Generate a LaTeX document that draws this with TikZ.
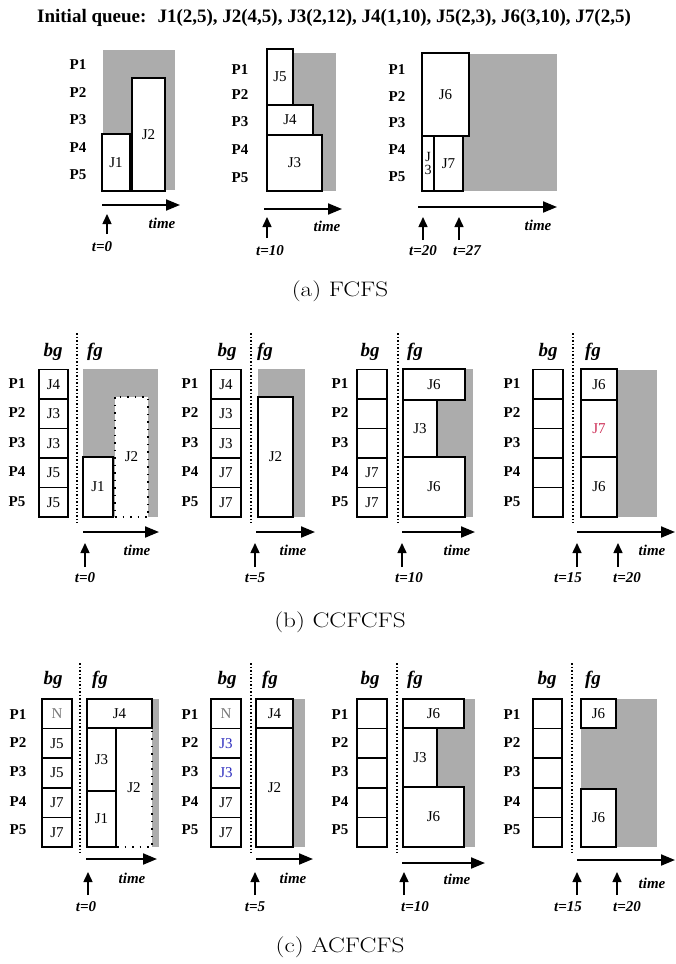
\documentclass[tikz,border=0pt]{standalone}
\usepackage{fontspec}
\usepackage{graphicx}
\newfontfamily\tms{Liberation Serif}
\usetikzlibrary{arrows.meta}

\definecolor{busygray}{RGB}{172,172,172}
\definecolor{qred}{RGB}{205,45,85}
\definecolor{qblue}{RGB}{45,45,190}
\definecolor{nogray}{RGB}{120,120,120}

\tikzset{
  busy/.style={fill=busygray},
  job/.style={draw, line width=1.5pt, fill=white},
  ghost/.style={draw, line width=1.5pt, dash pattern=on 1.5pt off 6pt, fill=white},
  cell/.style={draw, line width=1.5pt, fill=white},
  split/.style={line width=1.5pt, dash pattern=on 1.5pt off 2pt},
  headline/.style={font=\tms\bfseries\fontsize{19}{19}\selectfont},
  plabel/.style={font=\tms\bfseries\fontsize{15}{15}\selectfont},
  jlabel/.style={font=\tms\fontsize{15}{15}\selectfont, inner sep=0pt},
  side/.style={font=\tms\bfseries\itshape\fontsize{19}{19}\selectfont},
  tlabel/.style={font=\tms\bfseries\itshape\fontsize{15}{15}\selectfont},
  timeline/.style={line width=2pt, -{Triangle[length=14pt,width=11pt]}},
  tick/.style={line width=1.5pt, -{Triangle[length=10pt,width=9pt]}},
  caption/.style={font=\fontsize{21}{21}\selectfont},
}

\begin{document}
\begin{tikzpicture}[x=1pt,y=-1pt]
\useasboundingbox (0,0) rectangle (675,964);

\node[headline] (title) at (334,18) {Initial queue:~ J1(2,5), J2(4,5), J3(2,12), J4(1,10), J5(2,3), J6(3,10), J7(2,5)};

% (a) FCFS, t=0
\fill[busy] (103,50) rectangle (175,190);
\draw[job] (102,134) rectangle (130,191) node[midway,jlabel] (a1j1) {J1};
\draw[job] (132,78) rectangle (165,191) node[midway,jlabel] (a1j2) {J2};
\foreach \y [count=\i] in {65,93,120,148,175}
  \node[plabel] (a1p\i) at (78,\y) {P\i};
\draw[timeline] (102,205) -- (180,205);
\node[tlabel] (a1time) at (162,223) {time};
\node[tlabel] (a1t) at (102,247) {t=0};
\draw[tick] (107,234) -- (107,214);

% (a) FCFS, t=10
\fill[busy] (267,53) rectangle (336,191);
\draw[job] (267,49) rectangle (293,105) node[midway,jlabel] (a2j5) {J5};
\draw[job] (267,105) rectangle (313,135) node[midway,jlabel] (a2j4) {J4};
\draw[job] (267,135) rectangle (322,191) node[midway,jlabel] (a2j3) {J3};
\foreach \y [count=\i] in {70,95,122,150,178}
  \node[plabel] (a2p\i) at (240,\y) {P\i};
\draw[timeline] (264,209) -- (342,209);
\node[tlabel] (a2time) at (327,226) {time};
\node[tlabel] (a2t) at (270,251) {t=10};
\draw[tick] (267,238) -- (267,217);

% (a) FCFS, t=20
\fill[busy] (422,54) rectangle (557,191);
\draw[job] (422,53) rectangle (469,136) node[midway,jlabel] (a3j6) {J6};
\draw[job] (422,136) rectangle (434,191) node[midway,jlabel,align=center,font=\tms\fontsize{14}{13}\selectfont] (a3j3) {J\\3};
\draw[job] (434,136) rectangle (463,191) node[midway,jlabel] (a3j7) {J7};
\foreach \y [count=\i] in {70,97,123,150,177}
  \node[plabel] (a3p\i) at (397,\y) {P\i};
\draw[timeline] (418,207) -- (557,207);
\node[tlabel] (a3time) at (538,225) {time};
\node[tlabel] (a3t1) at (423,251) {t=20};
\node[tlabel] (a3t2) at (467,251) {t=27};
\draw[tick] (423,240) -- (423,217);
\draw[tick] (459,240) -- (459,217);

\node[caption] (capa) at (340,291) {\scalebox{1.2}[1]{(a) FCFS}};

% (b) CCFCFS, t=0
\node[side] (b1bg) at (53,352) {bg};
\node[side] (b1fg) at (95,352) {fg};
\foreach \t [count=\i] in {J4,J3,J3,J5,J5}
  \draw[cell] (39,369.5+29.5*\i-29.5) rectangle ++(29,29.5) node[midway,jlabel] (b1c\i) {\t};
\foreach \y [count=\i] in {384,413,443,472,502}
  \node[plabel] (b1p\i) at (17,\y) {P\i};
\draw[split] (77,333) -- (77,523);
\fill[busy] (83,369) rectangle (158,517);
\draw[job] (83,457) rectangle (113,517) node[midway,jlabel] (b1j1) {J1};
\draw[ghost] (115,397) rectangle (148,517) node[midway,jlabel] (b1j2) {J2};
\draw[timeline] (83,532) -- (159,532);
\node[tlabel] (b1time) at (137,550) {time};
\node[tlabel] (b1t) at (85,578) {t=0};
\draw[tick] (85,567) -- (85,543);

% (b) CCFCFS, t=5
\node[side] (b2bg) at (227,352) {bg};
\node[side] (b2fg) at (265,352) {fg};
\foreach \t [count=\i] in {J4,J3,J3,J7,J7}
  \draw[cell] (211,369.5+29.5*\i-29.5) rectangle ++(30,29.5) node[midway,jlabel] (b2c\i) {\t};
\foreach \y [count=\i] in {384,413,443,472,502}
  \node[plabel] (b2p\i) at (190,\y) {P\i};
\draw[split] (251,333) -- (251,523);
\fill[busy] (258,369) rectangle (305,517);
\draw[job] (258,397) rectangle (293,517) node[midway,jlabel] (b2j2) {J2};
\draw[timeline] (256,532) -- (315,532);
\node[tlabel] (b2time) at (293,550) {time};
\node[tlabel] (b2t) at (255,578) {t=5};
\draw[tick] (255,567) -- (255,543);

% (b) CCFCFS, t=10
\node[side] (b3bg) at (370,352) {bg};
\node[side] (b3fg) at (415,352) {fg};
\foreach \t [count=\i] in {{},{},{},J7,J7}
  \draw[cell] (357,369.5+29.5*\i-29.5) rectangle ++(30,29.5) node[midway,jlabel] (b3c\i) {\t};
\foreach \y [count=\i] in {384,413,443,472,502}
  \node[plabel] (b3p\i) at (340,\y) {P\i};
\draw[split] (398,333) -- (398,523);
\fill[busy] (403,369) rectangle (473,517);
\draw[job] (403,369) rectangle (465,400) node[midway,jlabel] (b3j6a) {J6};
\draw[job] (403,400) rectangle (437,457) node[midway,jlabel] (b3j3) {J3};
\draw[job] (403,457) rectangle (465,517) node[midway,jlabel] (b3j6b) {J6};
\draw[timeline] (402,532) -- (475,532);
\node[tlabel] (b3time) at (457,550) {time};
\node[tlabel] (b3t) at (409,578) {t=10};
\draw[tick] (402,567) -- (402,543);

% (b) CCFCFS, t=15
\node[side] (b4bg) at (548,352) {bg};
\node[side] (b4fg) at (593,352) {fg};
\foreach \i in {1,...,5}
  \draw[cell] (533,369.5+29.5*\i-29.5) rectangle ++(30,29.5) node[midway] (b4c\i) {};
\foreach \y [count=\i] in {384,413,443,472,502}
  \node[plabel] (b4p\i) at (512,\y) {P\i};
\draw[split] (573,333) -- (573,523);
\fill[busy] (581,370) rectangle (657,517);
\draw[job] (581,369) rectangle (617,400) node[midway,jlabel] (b4j6a) {J6};
\draw[job] (581,400) rectangle (617,457) node[midway,jlabel,text=qred] (b4j7) {J7};
\draw[job] (581,457) rectangle (617,517) node[midway,jlabel] (b4j6b) {J6};
\draw[timeline] (577,532) -- (675,532);
\node[tlabel] (b4time) at (652,550) {time};
\node[tlabel] (b4t1) at (568,578) {t=15};
\node[tlabel] (b4t2) at (627,578) {t=20};
\draw[tick] (577,567) -- (577,543);
\draw[tick] (618,567) -- (618,543);

\node[caption] (capb) at (340,622) {\scalebox{1.2}[1]{(b) CCFCFS}};

% (c) ACFCFS, t=0
\node[side] (c1bg) at (53,680) {bg};
\node[side] (c1fg) at (100,680) {fg};
\foreach \t [count=\i] in {\textcolor{nogray}{N},J5,J5,J7,J7}
  \draw[cell] (42,699+29.6*\i-29.6) rectangle ++(30,29.6) node[midway,jlabel] (c1c\i) {\t};
\foreach \y [count=\i] in {715,743,772,802,830}
  \node[plabel] (c1p\i) at (18,\y) {P\i};
\draw[split] (80,663) -- (80,853);
\fill[busy] (87,699) rectangle (159,847);
\draw[ghost] (116,728) rectangle (152,847) node[midway,jlabel] (c1j2) {J2};
\draw[job] (87,699) rectangle (152,728) node[midway,jlabel] (c1j4) {J4};
\draw[job] (87,728) rectangle (116,791) node[midway,jlabel] (c1j3) {J3};
\draw[job] (87,791) rectangle (116,847) node[midway,jlabel] (c1j1) {J1};
\draw[timeline] (86,859) -- (157,859);
\node[tlabel] (c1time) at (132,878) {time};
\node[tlabel] (c1t) at (86,907) {t=0};
\draw[tick] (88,895) -- (88,872);

% (c) ACFCFS, t=5
\node[side] (c2bg) at (227,680) {bg};
\node[side] (c2fg) at (270,680) {fg};
\foreach \t [count=\i] in {\textcolor{nogray}{N},\textcolor{qblue}{J3},\textcolor{qblue}{J3},J7,J7}
  \draw[cell] (211,699+29.6*\i-29.6) rectangle ++(30,29.6) node[midway,jlabel] (c2c\i) {\t};
\foreach \y [count=\i] in {715,743,772,802,830}
  \node[plabel] (c2p\i) at (190,\y) {P\i};
\draw[split] (251,663) -- (251,853);
\fill[busy] (256,699) rectangle (305,847);
\draw[job] (256,699) rectangle (293,728) node[midway,jlabel] (c2j4) {J4};
\draw[job] (256,728) rectangle (293,847) node[midway,jlabel] (c2j2) {J2};
\draw[timeline] (256,859) -- (313,859);
\node[tlabel] (c2time) at (293,878) {time};
\node[tlabel] (c2t) at (255,907) {t=5};
\draw[tick] (255,895) -- (255,872);

% (c) ACFCFS, t=10
\node[side] (c3bg) at (370,680) {bg};
\node[side] (c3fg) at (415,680) {fg};
\foreach \i in {1,...,5}
  \draw[cell] (357,699+29.6*\i-29.6) rectangle ++(30,29.6) node[midway] (c3c\i) {};
\foreach \y [count=\i] in {715,743,772,802,830}
  \node[plabel] (c3p\i) at (340,\y) {P\i};
\draw[split] (397,663) -- (397,853);
\fill[busy] (403,699) rectangle (475,847);
\draw[job] (403,699) rectangle (464,728) node[midway,jlabel] (c3j6a) {J6};
\draw[job] (403,728) rectangle (437,787) node[midway,jlabel] (c3j3) {J3};
\draw[job] (403,787) rectangle (464,847) node[midway,jlabel] (c3j6b) {J6};
\draw[timeline] (402,863) -- (485,863);
\node[tlabel] (c3time) at (457,879) {time};
\node[tlabel] (c3t) at (415,907) {t=10};
\draw[tick] (404,895) -- (404,872);

% (c) ACFCFS, t=15
\node[side] (c4bg) at (547,680) {bg};
\node[side] (c4fg) at (593,680) {fg};
\foreach \i in {1,...,5}
  \draw[cell] (533,699+29.6*\i-29.6) rectangle ++(29,29.6) node[midway] (c4c\i) {};
\foreach \y [count=\i] in {715,743,772,802,830}
  \node[plabel] (c4p\i) at (512,\y) {P\i};
\draw[split] (572,663) -- (572,853);
\fill[busy] (581,699) rectangle (657,847);
\draw[job] (581,699) rectangle (616,728) node[midway,jlabel] (c4j6a) {J6};
\draw[job] (581,789) rectangle (616,847) node[midway,jlabel] (c4j6b) {J6};
\draw[timeline] (577,860) -- (675,860);
\node[tlabel] (c4time) at (652,883) {time};
\node[tlabel] (c4t1) at (568,907) {t=15};
\node[tlabel] (c4t2) at (627,907) {t=20};
\draw[tick] (577,895) -- (577,872);
\draw[tick] (617,895) -- (617,872);

\node[caption] (capc) at (340,947) {\scalebox{1.2}[1]{(c) ACFCFS}};
\end{tikzpicture}
\end{document}
